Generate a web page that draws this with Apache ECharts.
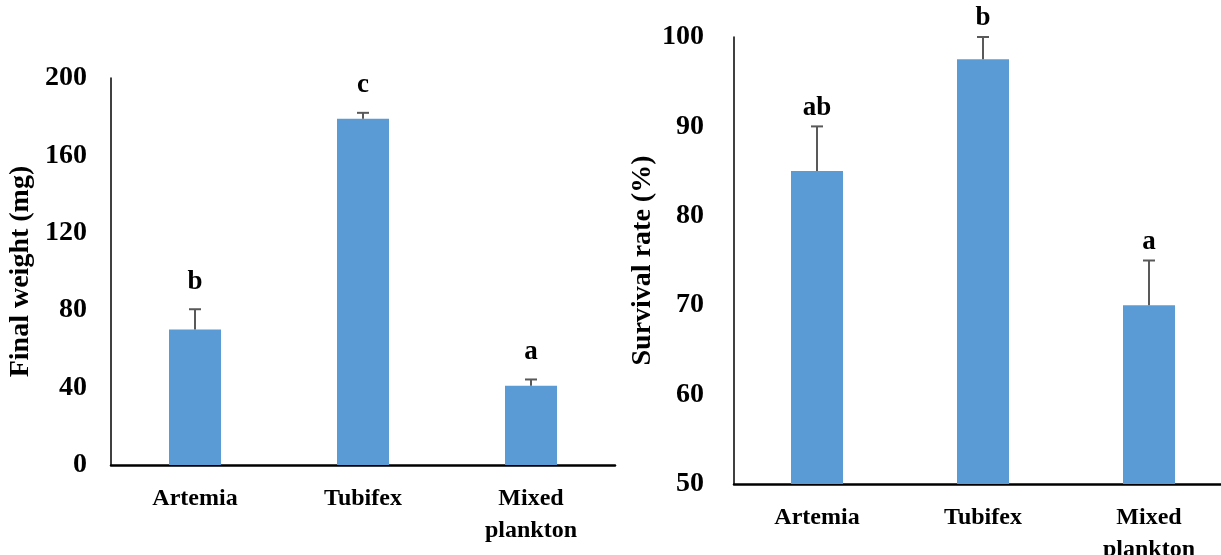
<!DOCTYPE html>
<html>
<head>
<meta charset="utf-8">
<script src="https://cdn.jsdelivr.net/npm/echarts@6/dist/echarts.min.js"></script>
<style>
html,body{margin:0;padding:0;background:#fff;}
#chart{width:1221px;height:555px;}
</style>
</head>
<body>
<div id="chart"></div>
<script>
const categories = ['Artemia', 'Tubifex', 'Mixed plankton'];
const weightMeans = [70, 179, 41];
const weightErrors = [10.5, 3, 3.2];
const weightLetters = ['b', 'c', 'a'];
const survivalMeans = [85, 97.5, 70];
const survivalErrors = [5, 2.5, 5];
const survivalLetters = ['ab', 'b', 'a'];
const weightTicks = {min: 0, max: 200, interval: 40};
const survivalTicks = {min: 50, max: 100, interval: 10};

const FONT = '"Liberation Serif", "Times New Roman", serif';
const BAR = '#5B9BD5';
const ERR = '#595959';

function errRender(letters, gap) {
  return function (params, api) {
    const i = api.value(0);
    const top = api.coord([i, api.value(1) + api.value(2)]);
    const base = api.coord([i, api.value(1)]);
    const cap = 6;
    return {
      type: 'group',
      children: [
        {type: 'line', shape: {x1: top[0], y1: base[1], x2: top[0], y2: top[1]},
         style: {stroke: ERR, lineWidth: 2}},
        {type: 'line', shape: {x1: top[0] - cap, y1: top[1], x2: top[0] + cap, y2: top[1]},
         style: {stroke: ERR, lineWidth: 2}},
        {type: 'text', x: top[0], y: top[1] - gap,
         style: {text: letters[i], font: 'bold 27px ' + FONT, fill: '#000',
                 align: 'center', verticalAlign: 'bottom'}}
      ]
    };
  };
}

const axisLabelY = {color: '#000', fontFamily: FONT, fontWeight: 'bold', fontSize: 28};
const axisLabelX = {color: '#000', fontFamily: FONT, fontWeight: 'bold', fontSize: 24,
  lineHeight: 32, interval: 0, margin: 18,
  formatter: v => v.replace(' ', '\n')};

const chart = echarts.init(document.getElementById('chart'), null, {renderer: 'canvas'});
chart.setOption({
  backgroundColor: '#fff',
  animation: false,
  grid: [
    {left: 111, top: 78, width: 504, height: 387, outerBoundsMode: 'none', containLabel: false},
    {left: 734, top: 37, width: 498, height: 447, outerBoundsMode: 'none', containLabel: false}
  ],
  xAxis: [
    {type: 'category', gridIndex: 0, data: categories,
     axisTick: {show: false}, axisLine: {lineStyle: {color: '#000', width: 2.5}},
     axisLabel: axisLabelX},
    {type: 'category', gridIndex: 1, data: categories,
     axisTick: {show: false}, axisLine: {lineStyle: {color: '#000', width: 2.5}},
     axisLabel: axisLabelX}
  ],
  yAxis: [
    {type: 'value', gridIndex: 0, min: weightTicks.min, max: weightTicks.max, interval: weightTicks.interval,
     name: 'Final weight (mg)', nameLocation: 'middle', nameGap: 76,
     nameTextStyle: {color: '#000', fontFamily: FONT, fontWeight: 'bold', fontSize: 28},
     axisLine: {show: true, lineStyle: {color: '#000', width: 1.5}},
     axisTick: {show: false}, splitLine: {show: false},
     axisLabel: Object.assign({margin: 24}, axisLabelY)},
    {type: 'value', gridIndex: 1, min: survivalTicks.min, max: survivalTicks.max, interval: survivalTicks.interval,
     name: 'Survival rate (%)', nameLocation: 'middle', nameGap: 77,
     nameTextStyle: {color: '#000', fontFamily: FONT, fontWeight: 'bold', fontSize: 28},
     axisLine: {show: true, lineStyle: {color: '#000', width: 1.5}},
     axisTick: {show: false}, splitLine: {show: false},
     axisLabel: Object.assign({margin: 30}, axisLabelY)}
  ],
  series: [
    {type: 'bar', xAxisIndex: 0, yAxisIndex: 0, data: weightMeans, barWidth: 52,
     itemStyle: {color: BAR}},
    {type: 'custom', xAxisIndex: 0, yAxisIndex: 0, z: 5,
     data: weightMeans.map((m, i) => [i, m, weightErrors[i]]),
     renderItem: errRender(weightLetters, 14)},
    {type: 'bar', xAxisIndex: 1, yAxisIndex: 1, data: survivalMeans, barWidth: 52,
     itemStyle: {color: BAR}},
    {type: 'custom', xAxisIndex: 1, yAxisIndex: 1, z: 5,
     data: survivalMeans.map((m, i) => [i, m, survivalErrors[i]]),
     renderItem: errRender(survivalLetters, 5)}
  ]
});
</script>
</body>
</html>
